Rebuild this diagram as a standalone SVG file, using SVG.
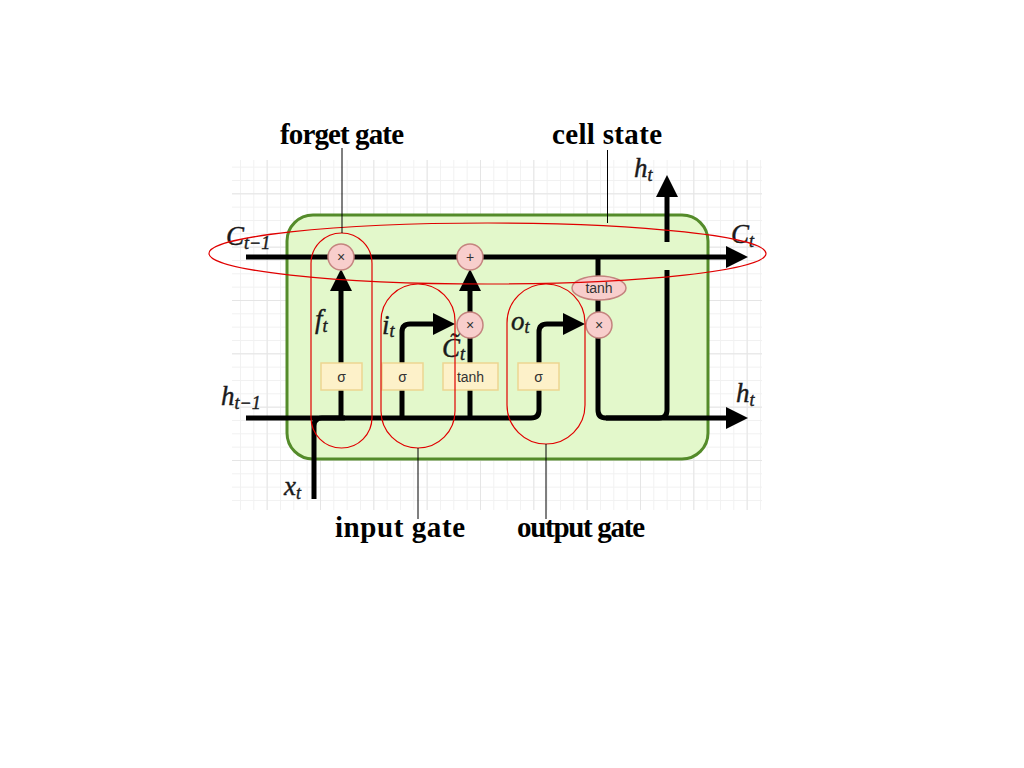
<svg xmlns="http://www.w3.org/2000/svg" width="1024" height="768" viewBox="0 0 1024 768">
<defs>
<style>
.wire{fill:none;stroke:#000;stroke-width:5;stroke-linejoin:round}
.arrow{marker-end:url(#arr)}
.op{fill:#f8cecc;stroke:#c4847f;stroke-width:1.5}
.opt{font-family:"Liberation Sans",Arial,sans-serif;font-size:14px;fill:#333;text-anchor:middle}
.box{fill:#fdf1c9;stroke:#edd591;stroke-width:1.5}
.boxt{font-family:"Liberation Sans",Arial,sans-serif;font-size:14px;fill:#333;text-anchor:middle}
.m{font-family:"Liberation Serif","Times New Roman",serif;font-style:italic;font-size:27px;fill:#1a1a1a;stroke:#1a1a1a;stroke-width:0.4}
.sub{font-size:18px}
.red{fill:none;stroke:#e00000;stroke-width:1.2}
.lead{fill:none;stroke:#000;stroke-width:1}
.lbl{font-family:"Liberation Serif","Times New Roman",serif;font-weight:bold;font-size:29px;fill:#000}
</style>
<marker id="arr" markerUnits="userSpaceOnUse" markerWidth="22" markerHeight="22" refX="0" refY="11" orient="auto">
<path d="M0,0 L22,11 L0,22 z" fill="#000"/>
</marker>
<pattern id="gridMinor" patternUnits="userSpaceOnUse" x="0" y="6.667" width="13.333" height="13.333">
<rect width="1" height="13.333" fill="#f1f1f1"/>
<rect width="13.333" height="1" fill="#f1f1f1"/>
</pattern>
<pattern id="gridMajor" patternUnits="userSpaceOnUse" x="0" y="33.333" width="53.333" height="53.333">
<rect width="1" height="53.333" fill="#e5e5e5"/>
<rect width="53.333" height="1" fill="#e5e5e5"/>
</pattern>
</defs>
<rect width="1024" height="768" fill="#fff"/>
<g id="grid">
<rect x="232" y="160" width="530" height="350" fill="url(#gridMinor)"/>
<rect x="232" y="160" width="530" height="350" fill="url(#gridMajor)"/>
</g>
<g id="lstm-cell">
<rect x="287" y="215" width="421" height="244" rx="26" ry="26" fill="#e3f8cb" stroke="#548b2a" stroke-width="3"/>
</g>
<g id="connectors">
<path class="wire arrow" d="M246,257 H726"/>
<path class="wire arrow" d="M598,257 V410 Q598,418 606,418 H726"/>
<path class="wire" d="M606,418 H659 Q667,418 667,410 V270"/>
<path class="wire arrow" d="M667,242 V197"/>
<path class="wire arrow" d="M246,418 H531 Q539,418 539,410 V332 Q539,324 547,324 H563"/>
<path class="wire" d="M314,499 V426 Q314,418 322,418 H345"/>
<path class="wire arrow" d="M341,418 V291"/>
<path class="wire arrow" d="M402,418 V332 Q402,324 410,324 H433"/>
<path class="wire arrow" d="M470,418 V291"/>
</g>
<g id="forget-mult"><circle class="op" cx="341" cy="257" r="13"/><text class="opt" x="341" y="262">×</text></g>
<g id="cell-add"><circle class="op" cx="470" cy="257" r="13"/><text class="opt" x="470" y="262">+</text></g>
<g id="input-mult"><circle class="op" cx="470" cy="325" r="13"/><text class="opt" x="470" y="330">×</text></g>
<g id="output-mult"><circle class="op" cx="599" cy="325" r="13"/><text class="opt" x="599" y="330">×</text></g>
<g id="cell-tanh"><ellipse class="op" cx="599" cy="288" rx="27" ry="12"/><text class="opt" x="599" y="293">tanh</text></g>
<g id="forget-sigma"><rect class="box" x="321" y="363" width="41" height="27"/><text class="boxt" x="341.5" y="382">σ</text></g>
<g id="input-sigma"><rect class="box" x="382" y="363" width="41" height="27"/><text class="boxt" x="402.5" y="382">σ</text></g>
<g id="candidate-tanh"><rect class="box" x="443" y="363" width="55" height="27"/><text class="boxt" x="470.5" y="382">tanh</text></g>
<g id="output-sigma"><rect class="box" x="518" y="363" width="41" height="27"/><text class="boxt" x="538.5" y="382">σ</text></g>
<g id="math-labels">
<text class="m" x="226" y="245">C<tspan class="sub" dy="4">t−1</tspan></text>
<text class="m" x="731" y="243">C<tspan class="sub" dy="4">t</tspan></text>
<text class="m" x="634" y="177">h<tspan class="sub" dy="4">t</tspan></text>
<text class="m" x="315" y="328">f<tspan class="sub" dy="4">t</tspan></text>
<text class="m" x="382" y="334">i<tspan class="sub" dy="3">t</tspan></text>
<text class="m" x="442" y="357">C̃<tspan class="sub" dy="3">t</tspan></text>
<text class="m" x="511" y="330">o<tspan class="sub" dy="3">t</tspan></text>
<text class="m" x="221" y="405">h<tspan class="sub" dy="4">t−1</tspan></text>
<text class="m" x="736" y="402">h<tspan class="sub" dy="4">t</tspan></text>
<text class="m" x="284" y="495">x<tspan class="sub" dy="4">t</tspan></text>
</g>
<g id="cell-state-annotation">
<ellipse class="red" cx="487.5" cy="253.5" rx="278.5" ry="30.5"/>
<path class="lead" d="M607.5,150 V223"/>
<text class="lbl" x="552" y="144" textLength="110">cell state</text>
</g>
<g id="forget-gate-annotation">
<rect class="red" x="311" y="233" width="61" height="215" rx="30.5" ry="30.5"/>
<path class="lead" d="M342,148 V233"/>
<text class="lbl" x="280" y="144" textLength="124">forget gate</text>
</g>
<g id="input-gate-annotation">
<rect class="red" x="381" y="284" width="74" height="164" rx="37" ry="37"/>
<path class="lead" d="M418,448 V519"/>
<text class="lbl" x="335" y="537" textLength="130">input gate</text>
</g>
<g id="output-gate-annotation">
<rect class="red" x="507" y="284" width="78" height="160" rx="39" ry="39"/>
<path class="lead" d="M546,444 V519"/>
<text class="lbl" x="517" y="537" textLength="128">output gate</text>
</g>
</svg>
